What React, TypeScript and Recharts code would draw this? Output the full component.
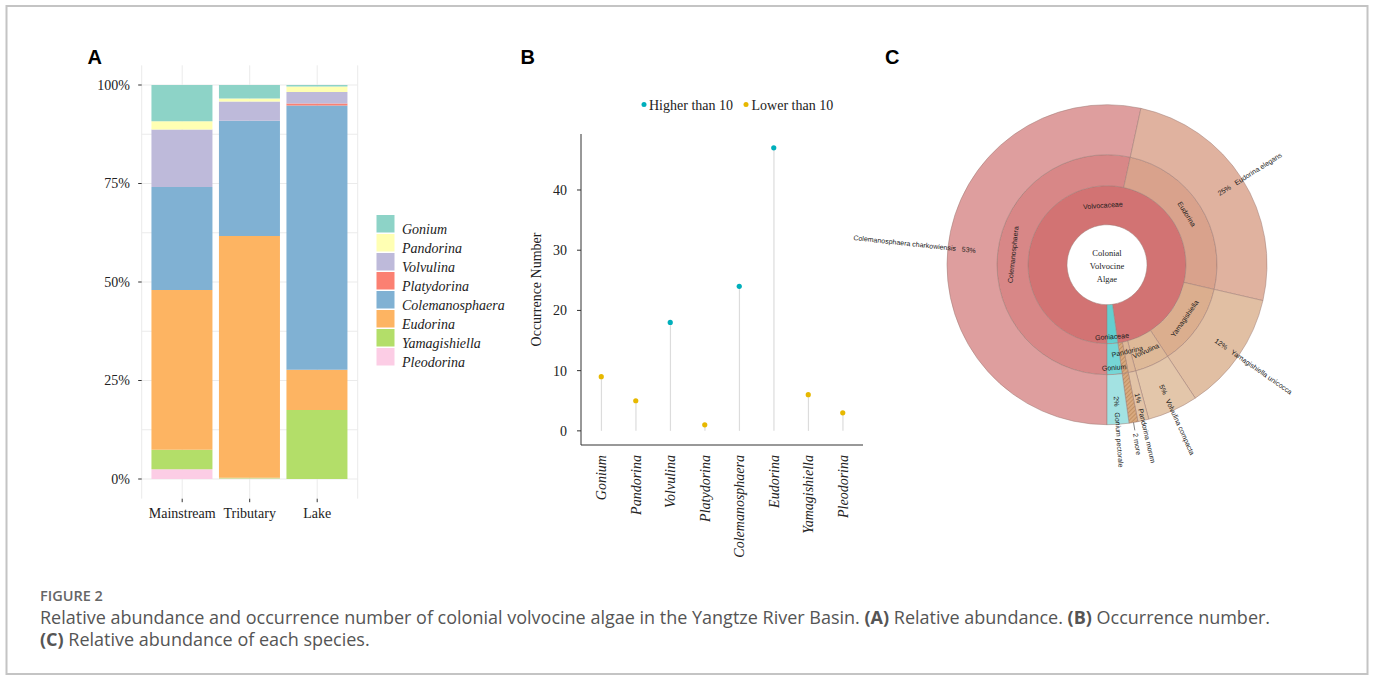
import React from "react";
import {
  BarChart,
  Bar,
  XAxis,
  YAxis,
  CartesianGrid,
  ComposedChart,
  Line,
  PieChart,
  Pie,
  Cell,
} from "recharts";

const SERIF = '"Liberation Serif", "Times New Roman", serif';
const SANS = '"Liberation Sans", Arial, sans-serif';
const CAPTION = '"Open Sans", "Noto Sans", sans-serif';

// ---- Panel A: relative abundance per habitat ----
const sites = ["Mainstream", "Tributary", "Lake"];
const genera = [
  "Gonium",
  "Pandorina",
  "Volvulina",
  "Platydorina",
  "Colemanosphaera",
  "Eudorina",
  "Yamagishiella",
  "Pleodorina",
];
const genusColors = [
  "#8DD3C7",
  "#FFFFB3",
  "#BEBADA",
  "#FB8072",
  "#80B1D3",
  "#FDB462",
  "#B3DE69",
  "#FCCDE5",
];
// % per site (Mainstream, Tributary, Lake)
const gonium = [9.2, 3.4, 0.4];
const pandorina = [2.1, 0.8, 1.4];
const volvulina = [14.6, 4.9, 2.9];
const platydorina = [0, 0, 0.5];
const colemanosphaera = [26.1, 29.2, 67.1];
const eudorina = [40.6, 61.4, 10.2];
const yamagishiella = [4.9, 0.2, 17.5];
const pleodorina = [2.5, 0.1, 0];
const abundance = [
  gonium,
  pandorina,
  volvulina,
  platydorina,
  colemanosphaera,
  eudorina,
  yamagishiella,
  pleodorina,
];
const abundanceTicks = [0, 25, 50, 75, 100];
const abundanceGrid = [0, 12.5, 25, 37.5, 50, 62.5, 75, 87.5, 100];

// ---- Panel B: occurrence number ----
const occurrence = [9, 5, 18, 1, 24, 47, 6, 3];
const occurrenceTicks = [0, 10, 20, 30, 40];
const threshold = 10;

// ---- Panel C: krona of colonial volvocine algae ----
const families = ["Volvocaceae", "Goniaceae"];
const familyShare = [97.8, 2.2];
const kronaGenera = [
  "Colemanosphaera",
  "Eudorina",
  "Yamagishiella",
  "Volvulina",
  "Pandorina",
  "2 more",
  "Gonium",
];
const kronaSpecies = [
  "Colemanosphaera charkowiensis",
  "Eudorina elegans",
  "Yamagishiella unicocca",
  "Volvulina compacta",
  "Pandorina morum",
  "2 more",
  "Gonium pectorale",
];
const speciesShare = [53.4, 25.2, 12.1, 5.1, 1.1, 0.9, 2.2];

const familyFills = ["#D27373", "#63CFCF"];
const genusFills = ["#D88787", "#D9A28C", "#DBAE8E", "#DEB998", "#DDB797", "url(#moreHatch)", "#76D6D6"];
const speciesFills = ["#DE9E9E", "#E0B29F", "#E1BFA3", "#E3C6AA", "#E2C3A6", "url(#moreHatch)", "#A3E2E2"];

const abundanceRows = sites.map((site, i) => {
  const row: Record<string, string | number> = { site };
  genera.forEach((g, j) => {
    row[g] = abundance[j][i];
  });
  return row;
});

const occurrenceRows = genera.map((g, i) => ({
  genus: g,
  count: occurrence[i],
  high: occurrence[i] > threshold ? occurrence[i] : null,
  low: occurrence[i] > threshold ? null : occurrence[i],
}));

const familyRows = families.map((name, i) => ({ name, share: familyShare[i] }));
const genusRows = kronaGenera.map((name, i) => ({ name, share: speciesShare[i] }));
const speciesRows = kronaSpecies.map((name, i) => ({ name, share: speciesShare[i] }));

const RAD = Math.PI / 180;
const polar = (cx: number, cy: number, r: number, angle: number) => ({
  x: cx + r * Math.cos(-angle * RAD),
  y: cy + r * Math.sin(-angle * RAD),
});
const norm = (a: number) => ((a % 360) + 360) % 360;

// tangential labels for the two inner rings
function ringLabel(names: string[]) {
  return (p: any) => {
    const { cx, cy, midAngle, innerRadius, outerRadius, index, value } = p;
    const name = names[index];
    if (name === "2 more") return null;
    let r = (innerRadius + outerRadius) / 2;
    if (value < 3) r = index === names.length - 1 ? outerRadius - 7 : innerRadius + 10;
    const pos = polar(cx, cy, r, midAngle);
    let rot = norm(-midAngle + 90);
    if (rot > 90 && rot < 270) rot -= 180;
    return (
      <text
        x={pos.x}
        y={pos.y}
        transform={`rotate(${rot} ${pos.x} ${pos.y})`}
        textAnchor="middle"
        dominantBaseline="central"
        fontFamily={SANS}
        fontSize={7}
        fill="#1a1a1a"
      >
        {name}
      </text>
    );
  };
}

// radial labels for the species ring
function speciesLabel(p: any) {
  const { cx, cy, midAngle, index, value } = p;
  const name = kronaSpecies[index];
  const rot = norm(-midAngle);
  const flip = rot > 90 && rot < 270;
  const style = { fontFamily: SANS, fontSize: 7, fill: "#1a1a1a" };
  if (name === "2 more") {
    const a = polar(cx, cy, 160, midAngle);
    const b = polar(cx, cy, 168, midAngle);
    const t = polar(cx, cy, 171, midAngle);
    return (
      <g>
        <line x1={a.x} y1={a.y} x2={b.x} y2={b.y} stroke="#333" strokeWidth={0.6} />
        <text
          x={t.x}
          y={t.y}
          transform={`rotate(${rot} ${t.x} ${t.y})`}
          textAnchor="start"
          dominantBaseline="central"
          {...style}
        >
          {name}
        </text>
      </g>
    );
  }
  const pos = polar(cx, cy, 132, midAngle);
  const pct = `${Math.round(value)}%`;
  const gap = "\u00A0\u00A0\u00A0";
  return (
    <text
      x={pos.x}
      y={pos.y}
      transform={`rotate(${flip ? rot - 180 : rot} ${pos.x} ${pos.y})`}
      textAnchor={flip ? "end" : "start"}
      dominantBaseline="central"
      {...style}
    >
      {flip ? `${name}${gap}${pct}` : `${pct}${gap}${name}`}
    </text>
  );
}

function Stem(props: any) {
  const { x, y, width, height } = props;
  const cx = x + width / 2;
  return <line x1={cx} x2={cx} y1={y} y2={y + height} stroke="#dcdcdc" strokeWidth={1.2} />;
}

function GenusTick(props: any) {
  const { x, y, payload } = props;
  const tx = x + 5;
  const ty = y + 10;
  return (
    <text
      x={tx}
      y={ty}
      transform={`rotate(-90 ${tx} ${ty})`}
      textAnchor="end"
      fontFamily={SERIF}
      fontStyle="italic"
      fontSize={14}
      fill="#222"
    >
      {payload.value}
    </text>
  );
}

function OccurrenceAxisTitle(props: any) {
  const vb = props.viewBox || { x: 26, y: 54, width: 55, height: 311 };
  const x = vb.x + 10;
  const y = vb.y + vb.height / 2;
  return (
    <text
      x={x}
      y={y}
      transform={`rotate(-90 ${x} ${y})`}
      textAnchor="middle"
      dominantBaseline="central"
      fontFamily={SERIF}
      fontSize={14}
      fill="#222"
    >
      Occurrence Number
    </text>
  );
}

function AbundanceChart() {
  return (
    <div style={{ position: "absolute", left: 40, top: 40 }}>
      <BarChart
        width={470}
        height={500}
        data={abundanceRows}
        margin={{ top: 25.3, right: 152.3, bottom: 11.3, left: 41.7 }}
        barSize={61}
      >
        <CartesianGrid stroke="#ebebeb" horizontalValues={abundanceGrid} />
        <XAxis
          dataKey="site"
          interval={0}
          padding={{ left: 6.75, right: 6.75 }}
          axisLine={false}
          tickLine={{ stroke: "#333" }}
          tickSize={3.5}
          tickMargin={5.8}
          height={30}
          tick={{ fontFamily: SERIF, fontSize: 14, fill: "#222" }}
        />
        <YAxis
          type="number"
          domain={[-5, 105]}
          allowDataOverflow
          ticks={abundanceTicks}
          tickFormatter={(v: number) => `${v}%`}
          width={60}
          axisLine={false}
          tickLine={{ stroke: "#333" }}
          tickSize={3.5}
          tickMargin={8.2}
          tick={{ fontFamily: SERIF, fontSize: 14, fill: "#222" }}
        />
        {[...genera].reverse().map((g) => (
          <Bar
            key={g}
            dataKey={g}
            stackId="abundance"
            fill={genusColors[genera.indexOf(g)]}
            isAnimationActive={false}
          />
        ))}
      </BarChart>
    </div>
  );
}

function OccurrenceChart() {
  return (
    <div style={{ position: "absolute", left: 500, top: 80 }}>
      <ComposedChart
        width={380}
        height={500}
        data={occurrenceRows}
        margin={{ top: 54, right: 17, bottom: 5, left: 26 }}
      >
        <XAxis
          dataKey="genus"
          interval={0}
          padding={{ left: 3, right: 3 }}
          axisLine={{ stroke: "#333" }}
          tickLine={false}
          tickSize={0}
          tickMargin={0}
          height={130}
          tick={<GenusTick />}
        />
        <YAxis
          type="number"
          domain={[-2.35, 49.3]}
          allowDataOverflow
          ticks={occurrenceTicks}
          width={55}
          axisLine={{ stroke: "#333" }}
          tickLine={{ stroke: "#333" }}
          tickSize={4}
          tickMargin={10}
          tick={{ fontFamily: SERIF, fontSize: 14, fill: "#222" }}
          label={OccurrenceAxisTitle}
        />
        <Bar dataKey="count" shape={<Stem />} isAnimationActive={false} />
        <Line
          dataKey="high"
          stroke="none"
          dot={{ r: 2.6, fill: "#00AFBB", stroke: "none" }}
          activeDot={false}
          isAnimationActive={false}
        />
        <Line
          dataKey="low"
          stroke="none"
          dot={{ r: 2.6, fill: "#E7B800", stroke: "none" }}
          activeDot={false}
          isAnimationActive={false}
        />
      </ComposedChart>
    </div>
  );
}

function KronaChart() {
  const cx = 277;
  const cy = 224.7;
  const ring = { stroke: "#9c7b74", strokeWidth: 0.5 };
  return (
    <div style={{ position: "absolute", left: 830, top: 40 }}>
      <PieChart width={540} height={480} margin={{ top: 0, right: 0, bottom: 0, left: 0 }}>
        <Pie
          data={familyRows}
          dataKey="share"
          nameKey="name"
          cx={cx}
          cy={cy}
          innerRadius={40}
          outerRadius={79}
          startAngle={-90}
          endAngle={-450}
          {...ring}
          label={ringLabel(families)}
          labelLine={false}
          isAnimationActive={false}
        >
          {familyRows.map((r, i) => (
            <Cell key={r.name} fill={familyFills[i]} />
          ))}
        </Pie>
        <Pie
          data={genusRows}
          dataKey="share"
          nameKey="name"
          cx={cx}
          cy={cy}
          innerRadius={79}
          outerRadius={110}
          startAngle={-90}
          endAngle={-450}
          {...ring}
          label={ringLabel(kronaGenera)}
          labelLine={false}
          isAnimationActive={false}
        >
          {genusRows.map((r, i) => (
            <Cell key={r.name} fill={genusFills[i]} />
          ))}
        </Pie>
        <Pie
          data={speciesRows}
          dataKey="share"
          nameKey="name"
          cx={cx}
          cy={cy}
          innerRadius={110}
          outerRadius={160}
          startAngle={-90}
          endAngle={-450}
          {...ring}
          label={speciesLabel}
          labelLine={false}
          isAnimationActive={false}
        >
          {speciesRows.map((r, i) => (
            <Cell key={r.name} fill={speciesFills[i]} />
          ))}
        </Pie>
      </PieChart>
    </div>
  );
}

// Legends, panel letters, caption and frame
function Overlay() {
  return (
    <svg
      width={1375}
      height={680}
      style={{ position: "absolute", left: 0, top: 0, pointerEvents: "none" }}
    >
      <defs>
        <pattern
          id="moreHatch"
          width={3}
          height={3}
          patternUnits="userSpaceOnUse"
          patternTransform="rotate(45)"
        >
          <rect width={3} height={3} fill="#D8A97F" />
          <line x1={0} y1={0} x2={0} y2={3} stroke="#B3804F" strokeWidth={1.2} />
        </pattern>
      </defs>
      <rect x={6.5} y={6} width={1361} height={668} fill="none" stroke="#c4c4c4" strokeWidth={2} />

      <g fontFamily={SANS} fontWeight={700} fontSize={20} fill="#000">
        <text x={87.5} y={63.5}>A</text>
        <text x={520.5} y={63.5}>B</text>
        <text x={885} y={63.5}>C</text>
      </g>

      {/* legend A */}
      <g>
        {genera.map((g, i) => (
          <g key={g}>
            <rect x={376.5} y={215 + i * 19} width={18} height={17.5} fill={genusColors[i]} />
            <text
              x={402}
              y={215 + i * 19 + 18.5}
              fontFamily={SERIF}
              fontStyle="italic"
              fontSize={14}
              fill="#222"
            >
              {g}
            </text>
          </g>
        ))}
      </g>

      {/* legend B */}
      <g fontFamily={SERIF} fontSize={14} fill="#222">
        <circle cx={644} cy={104.5} r={2.5} fill="#00AFBB" />
        <text x={649} y={109.5}>{`Higher than ${threshold}`}</text>
        <circle cx={746} cy={104.5} r={2.5} fill="#E7B800" />
        <text x={751.5} y={109.5}>{`Lower than ${threshold}`}</text>
      </g>

      {/* centre of krona */}
      <g fontFamily={SERIF} fontSize={8.5} fill="#222" textAnchor="middle">
        <text x={1107} y={255.5}>Colonial</text>
        <text x={1107} y={268.8}>Volvocine</text>
        <text x={1107} y={282}>Algae</text>
      </g>

      {/* caption */}
      <g fontFamily={CAPTION}>
        <text x={40} y={600.7} fontSize={14.5} fontWeight={600} fill="#666">
          FIGURE 2
        </text>
        <text x={40} y={624.3} fontSize={18} fill="#555">
          Relative abundance and occurrence number of colonial volvocine algae in the Yangtze River Basin.{" "}
          <tspan fontWeight={700}>(A)</tspan> Relative abundance.{" "}
          <tspan fontWeight={700}>(B)</tspan> Occurrence number.
        </text>
        <text x={40} y={646} fontSize={18} fill="#555">
          <tspan fontWeight={700}>(C)</tspan> Relative abundance of each species.
        </text>
      </g>
    </svg>
  );
}

export default function App() {
  return (
    <div
      style={{
        position: "absolute",
        left: 0,
        top: 0,
        width: 1375,
        height: 680,
        background: "#fff",
        overflow: "hidden",
      }}
    >
      <Overlay />
      <AbundanceChart />
      <OccurrenceChart />
      <KronaChart />
    </div>
  );
}
